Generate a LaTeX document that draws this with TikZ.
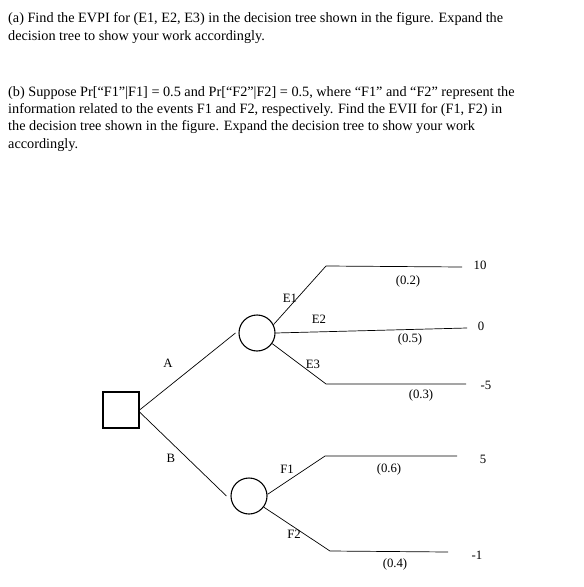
\documentclass[tikz,border=0pt]{standalone}
\usepackage{fontspec}
\setmainfont{Liberation Serif}
\usetikzlibrary{positioning}

\begin{document}
\begin{tikzpicture}[x=1bp, y=-1bp, font=\fontsize{12.8}{15}\selectfont,
        para/.style={anchor=north west, align=left, inner sep=0pt,
                     font=\fontsize{14.3}{17.5}\selectfont},
        decision/.style={draw, line width=1.1bp, minimum size=36bp, inner sep=0pt},
        chance/.style={draw, circle, line width=1.1bp, minimum size=36bp, inner sep=0pt},
        branch/.style={line width=0.7bp},
        lbl/.style={inner sep=1pt}]
  \useasboundingbox (0,0) rectangle (584,587);
  \node[para] (qa) at (8,12.5) {(a) Find the EVPI for (E1, E2, E3) in the decision tree shown in the figure. Expand the\\
    decision tree to show your work accordingly.};
  \node[para] (qb) at (8,86) {(b) Suppose Pr[“F1”|F1] = 0.5 and Pr[“F2”|F2] = 0.5, where “F1” and “F2” represent the\\
    information related to the events F1 and F2, respectively. Find the EVII for (F1, F2) in\\
    the decision tree shown in the figure. Expand the decision tree to show your work\\
    accordingly.};

  \node[decision] (dec) at (121,410) {};
  \node[chance] (ca) at (257,333) {};
  \node[chance] (cb) at (249,496) {};

  \coordinate (e1bend) at (326,266);
  \coordinate (e1end) at (462,267);
  \coordinate (e2end) at (467,328);
  \coordinate (e3bend) at (326,384);
  \coordinate (e3end) at (466,384);
  \coordinate (f1bend) at (325,456);
  \coordinate (f1end) at (457,456);
  \coordinate (f2bend) at (330,551);
  \coordinate (f2end) at (448,552);

  \draw[branch] (dec.east) -- ([xshift=-3bp]ca.west);
  \draw[branch] ([yshift=-2bp]dec.east) -- ([xshift=-4bp]cb.west);
  \draw[branch] (ca.27) -- (e1bend) -- (e1end);
  \draw[branch] (ca.east) -- (e2end);
  \draw[branch] (ca.-35) -- (e3bend) -- (e3end);
  \draw[branch] (cb.5) -- (f1bend) -- (f1end);
  \draw[branch] (cb.-37) -- (f2bend) -- (f2end);

  \node[lbl] (la) at (168,363) {A};
  \node[lbl] (lb) at (171,458) {B};
  \node[lbl] (le1) at (290,298) {E1};
  \node[lbl] (le2) at (319,319) {E2};
  \node[lbl] (le3) at (313,364) {E3};
  \node[lbl] (lf1) at (287,469) {F1};
  \node[lbl] (lf2) at (294,534) {F2};

  \node[lbl] (pe1) at (408,281) {(0.2)};
  \node[lbl] (pe2) at (410,339) {(0.5)};
  \node[lbl] (pe3) at (421,395) {(0.3)};
  \node[lbl] (pf1) at (389,469) {(0.6)};
  \node[lbl] (pf2) at (395,564) {(0.4)};

  \node[lbl] (ve1) at (480,265) {10};
  \node[lbl] (ve2) at (481,326) {0};
  \node[lbl] (ve3) at (486,385) {-5};
  \node[lbl] (vf1) at (483,459) {5};
  \node[lbl] (vf2) at (477,555) {-1};
\end{tikzpicture}
\end{document}
